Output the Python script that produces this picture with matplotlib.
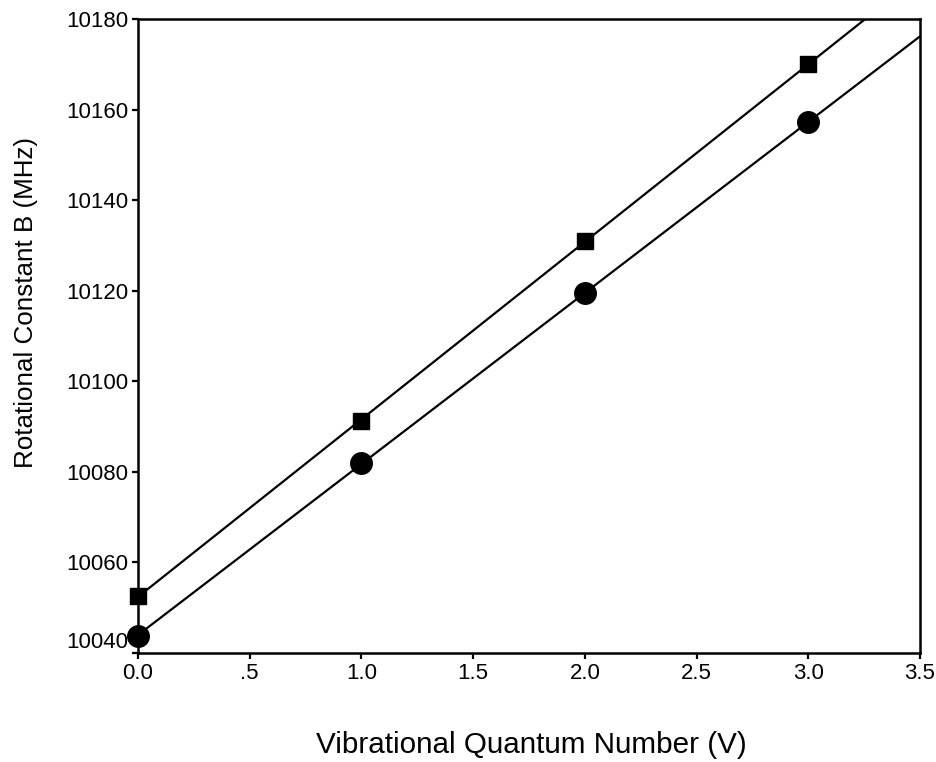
import numpy as np
import matplotlib
matplotlib.use("Agg")
import matplotlib.pyplot as plt
import matplotlib.transforms as mtransforms

plt.rcParams['font.family'] = ['Liberation Sans', 'DejaVu Sans']

v = [0, 1, 2, 3]
b_squares = [10052.6, 10091.2, 10131.0, 10170.0]
b_circles = [10043.8, 10082.0, 10119.5, 10157.2]
xticks = [0.0, 0.5, 1.0, 1.5, 2.0, 2.5, 3.0, 3.5]
xticklabels = ['0.0', '.5', '1.0', '1.5', '2.0', '2.5', '3.0', '3.5']
yticks = [10040, 10060, 10080, 10100, 10120, 10140, 10160, 10180]

W, H = 937, 762
fig = plt.figure(figsize=(W/100, H/100), dpi=100)
ax = fig.add_axes([138/W, 1-653/H, (920-138)/W, (653-19)/H])

xfit = np.array([0.0, 3.5])
for ys, mk, ms in [(b_squares, 's', 12), (b_circles, 'o', 15.5)]:
    p = np.polyfit(v, ys, 1)
    ax.plot(xfit, np.polyval(p, xfit), color='black', lw=1.6)
    ax.plot(v, ys, linestyle='none', marker=mk, ms=ms, color='black', clip_on=False, zorder=5)

ax.set_xlim(0, 3.5)
ax.set_ylim(10040, 10180)
ax.set_xticks(xticks)
ax.set_xticklabels(xticklabels)
ax.set_yticks(yticks)
ax.tick_params(direction='out', length=4, width=1.6, labelsize=16, pad=3)
for s in ax.spines.values():
    s.set_linewidth(1.8)

# shift lowest y tick label up as in reference
lab = ax.get_yticklabels()[0]
lab.set_transform(lab.get_transform() + mtransforms.ScaledTranslation(0, 13/100, fig.dpi_scale_trans))

fig.text(26/W, 1-303/H, 'Rotational Constant B (MHz)', fontsize=18.7,
         rotation=90, ha='center', va='center')
fig.text(531/W, 1-745/H, 'Vibrational Quantum Number (V)', fontsize=21.3,
         ha='center', va='center')

fig.savefig('out.png', dpi=100)
